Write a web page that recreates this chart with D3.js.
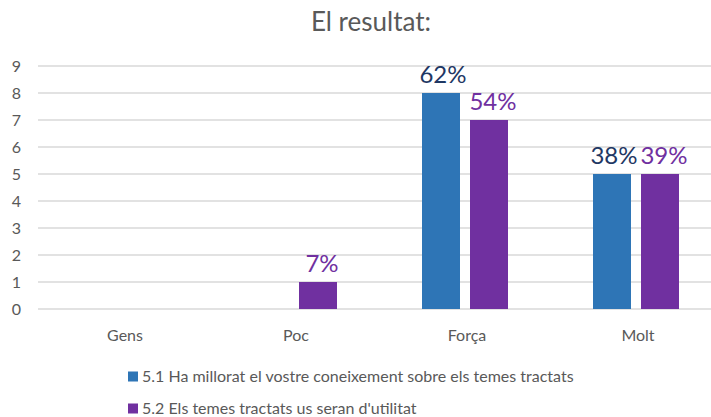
<!DOCTYPE html>
<html><head><meta charset="utf-8">
<script src="https://cdn.jsdelivr.net/npm/d3@7"></script>
<style>body{margin:0;background:#fff}svg{display:block}text{font-family:Lato,"Open Sans",sans-serif}</style>
</head><body>
<script>
const categories = ["Gens","Poc","Força","Molt"];
const seriesNames = ["5.1 Ha millorat el vostre coneixement sobre els temes tractats","5.2 Els temes tractats us seran d'utilitat"];
const series1 = [0,0,8,5];
const series2 = [0,1,7,5];
const labels1 = [null,null,"62%","38%"];
const labels2 = [null,"7%","54%","39%"];
const yTicks = [0,1,2,3,4,5,6,7,8,9];
const colors = ["#2E75B6","#7030A0"];
const labelColors = ["#1F3864","#7030A0"];

const W=711,H=417;
const svg=d3.select("body").append("svg").attr("width",W).attr("height",H);
const x=d3.scaleBand().domain(categories).range([37.5,721.5]);
const y=d3.scaleLinear().domain([0,9]).range([309,66]);

svg.append("text").attr("x",371).attr("y",31).attr("text-anchor","middle")
  .attr("font-size",26).attr("fill","#595959").text("El resultat:");

svg.append("g").selectAll("line").data(yTicks).join("line")
  .attr("x1",38).attr("x2",W).attr("y1",d=>y(d)).attr("y2",d=>y(d))
  .attr("stroke","#d9d9d9").attr("stroke-width",1.3);

svg.append("g").selectAll("text").data(yTicks).join("text")
  .attr("x",21).attr("y",d=>y(d)).attr("dy","0.35em").attr("text-anchor","end")
  .attr("font-size",16).attr("fill","#595959").text(d=>d);

svg.append("g").selectAll("text").data(categories).join("text")
  .attr("x",d=>x(d)+x.bandwidth()/2+2).attr("y",341).attr("text-anchor","middle")
  .attr("font-size",16).attr("fill","#595959").text(d=>d);

const bw=38, gap=5;
[series1,series2].forEach((s,i)=>{
  const off = i===0 ? -gap-bw : gap;
  const labs = i===0?labels1:labels2;
  const g=svg.append("g");
  g.selectAll("rect").data(categories).join("rect")
    .attr("x",d=>x(d)+x.bandwidth()/2+off)
    .attr("y",(d,j)=>y(s[j]))
    .attr("width",bw).attr("height",(d,j)=>y(0)-y(s[j]))
    .attr("fill",colors[i]);
  g.selectAll("text").data(categories).join("text")
    .filter((d,j)=>labs[j]!==null)
    .attr("x",d=>x(d)+x.bandwidth()/2+off+bw/2+(i===0?2:4))
    .attr("y",d=>y(s[categories.indexOf(d)])-10)
    .attr("text-anchor","middle").attr("font-size",24).attr("fill",labelColors[i])
    .text(d=>labs[categories.indexOf(d)]);
});

const lg=svg.append("g");
seriesNames.forEach((n,i)=>{
  const yy = 382 + i*32;
  lg.append("rect").attr("x",128).attr("y",yy-10.5).attr("width",10).attr("height",10).attr("fill",colors[i]);
  lg.append("text").attr("x",142).attr("y",yy).attr("font-size",16).attr("fill","#595959").text(n);
});
</script>
</body></html>
